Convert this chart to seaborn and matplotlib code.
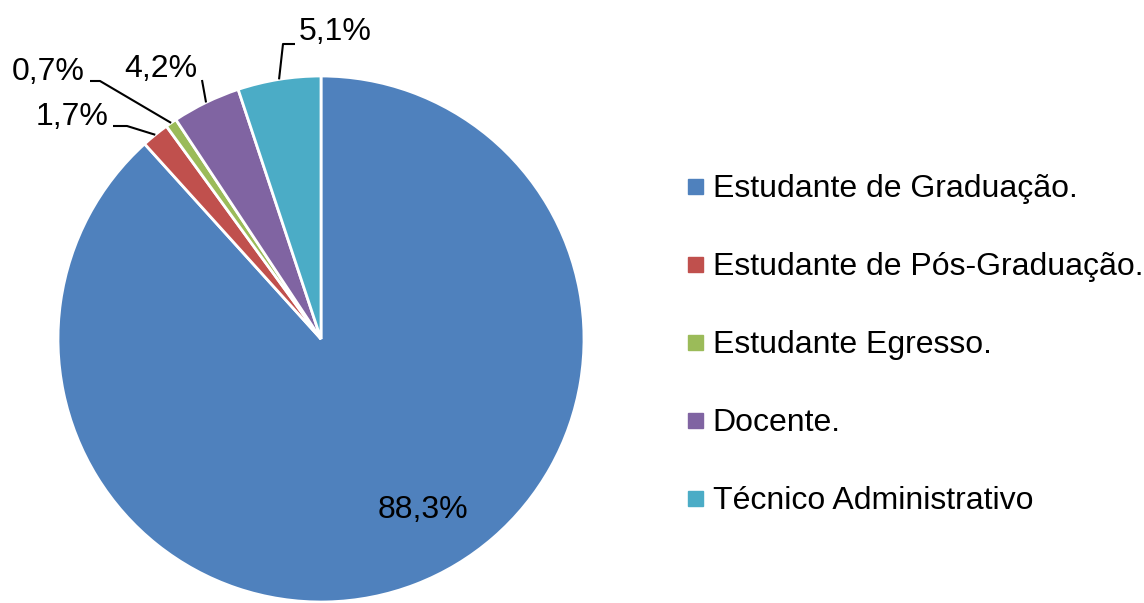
import numpy as np
import matplotlib
matplotlib.use("Agg")
import matplotlib.pyplot as plt
from matplotlib.lines import Line2D
import seaborn as sns

# data
categorias = ["Estudante de Graduação.", "Estudante de Pós-Graduação.",
              "Estudante Egresso.", "Docente.", "Técnico Administrativo"]
percentuais = [88.3, 1.7, 0.7, 4.2, 5.1]
rotulos = ["88,3%", "1,7%", "0,7%", "4,2%", "5,1%"]

cores = ["#4F81BD", "#C0504D", "#9BBB59", "#8064A2", "#4BACC6"]

sns.set_theme(style="white")
plt.rcParams["font.family"] = ["Liberation Sans", "DejaVu Sans"]
plt.rcParams["text.color"] = "black"
fs = 23

W, H = 1144, 603
cx, cy, r = 321, 339, 263   # pie centre / radius in pixels

fig = plt.figure(figsize=(W / 100, H / 100), dpi=100)
ax = fig.add_axes([(cx - r) / W, (H - cy - r) / H, 2 * r / W, 2 * r / H])

wedges, _ = ax.pie(percentuais, colors=sns.color_palette(cores), startangle=90,
                   counterclock=False, radius=1,
                   wedgeprops=dict(edgecolor="white", linewidth=2))
ax.set_xlim(-1, 1)
ax.set_ylim(-1, 1)
ax.axis("off")


def px(x, y):
    # pixel position -> data coords of the pie axes
    return (x - cx) / r, (cy - y) / r


# label placement (pixels): text centre, leader elbow, leader end
layout = {
    0: dict(text=(423, 510), elbow=None, end=None),
    1: dict(text=(72, 117), elbow=(127, 126), end=(113, 126)),
    2: dict(text=(48, 72), elbow=(100, 81), end=(90, 81)),
    3: dict(text=(161, 69), elbow=(202, 80), end=(202, 80)),
    4: dict(text=(335, 32), elbow=(283, 44), end=(295, 44)),
}

for i, w in enumerate(wedges):
    lay = layout[i]
    tx, ty = px(*lay["text"])
    ax.text(tx, ty, rotulos[i], ha="center", va="center", fontsize=fs,
            color="black", clip_on=False)
    if lay["elbow"] is not None:
        ang = np.deg2rad((w.theta1 + w.theta2) / 2)
        ex, ey = np.cos(ang), np.sin(ang)
        bx, by = px(*lay["elbow"])
        kx, ky = px(*lay["end"])
        ax.plot([ex, bx, kx], [ey, by, ky], color="black", lw=1.5,
                clip_on=False, solid_capstyle="butt")

handles = [Line2D([], [], marker="s", linestyle="none", markersize=10.8,
                  markerfacecolor=c, markeredgecolor=c) for c in cores]
leg = fig.legend(handles, categorias, loc="center left",
                 bbox_to_anchor=(687 / W, (H - 345) / H), frameon=False,
                 fontsize=fs, handlelength=0.5, handletextpad=0.3,
                 labelspacing=1.5, borderpad=0, borderaxespad=0)
for t in leg.get_texts():
    t.set_color("black")

fig.savefig("out.png", dpi=100)
